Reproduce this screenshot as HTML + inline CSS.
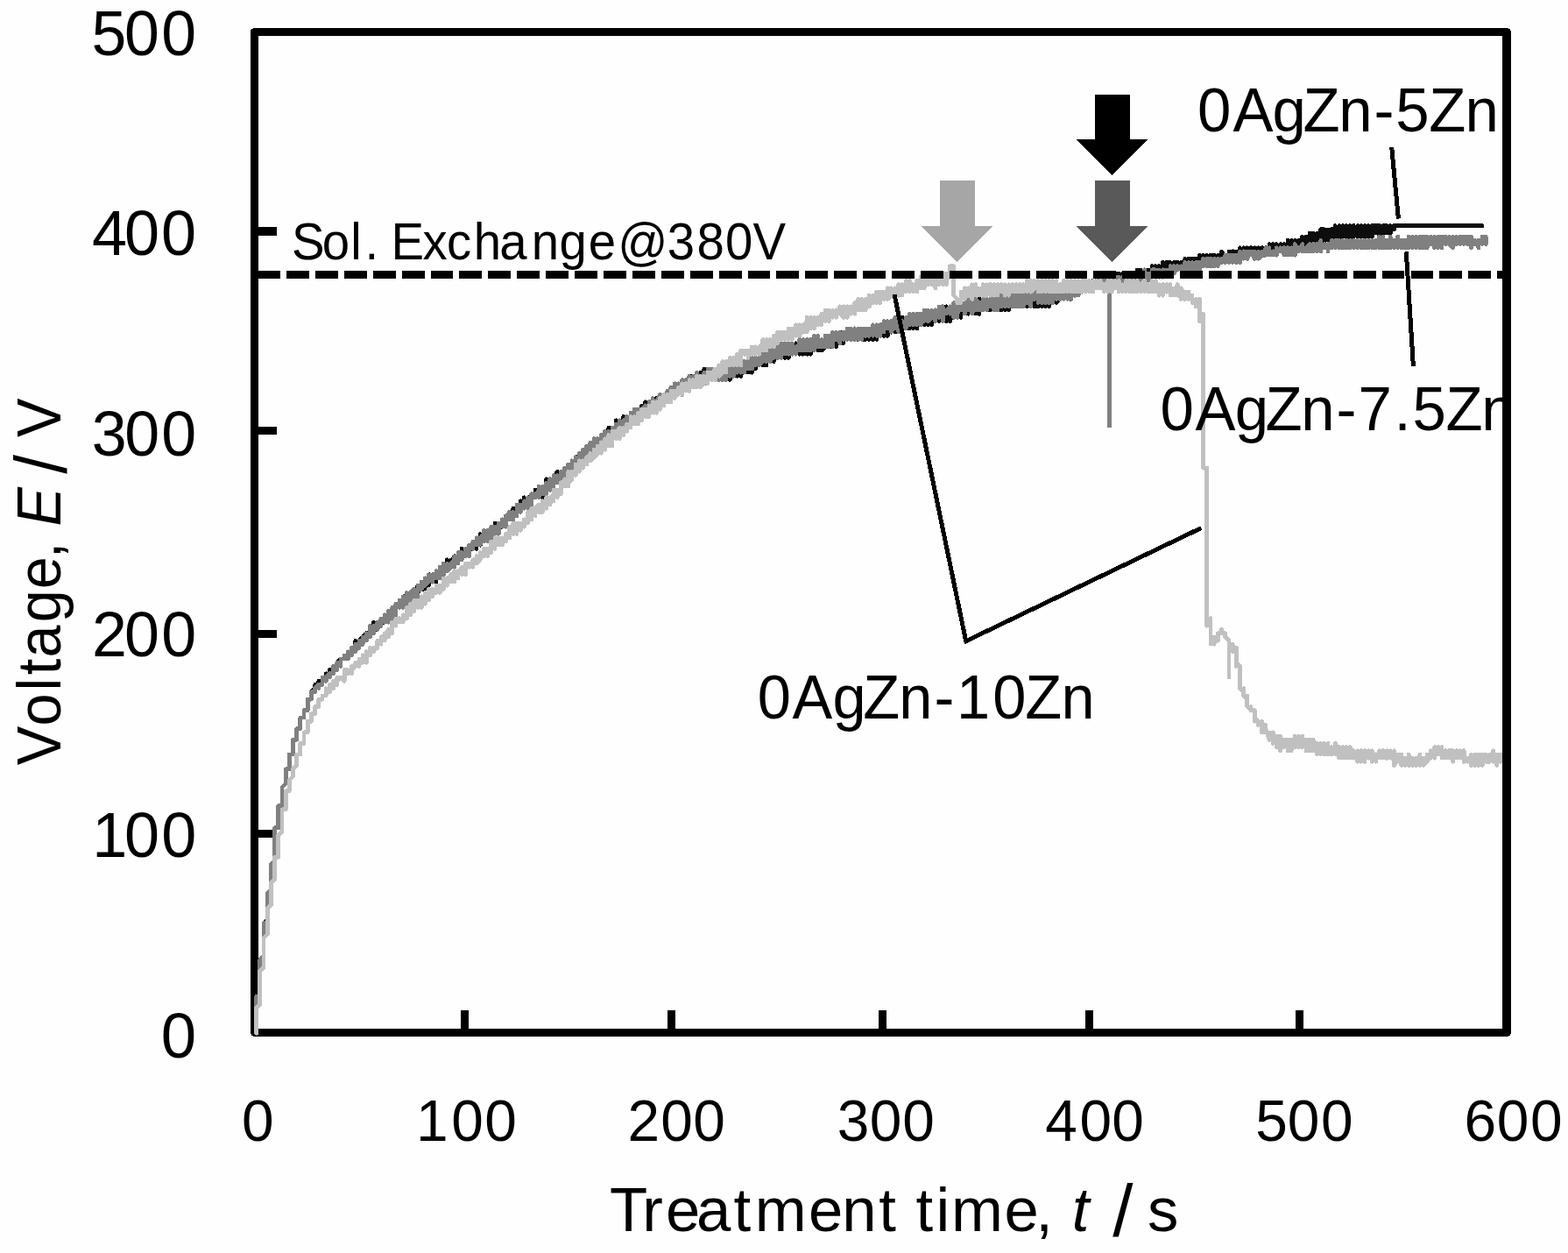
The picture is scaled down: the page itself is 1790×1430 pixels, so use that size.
<!DOCTYPE html>
<html lang="en"><head><meta charset="utf-8"><title>Voltage vs treatment time</title>
<style>
html,body{margin:0;padding:0;background:#fff;}
body{width:1790px;height:1430px;overflow:hidden;}
svg{display:block;}
text{font-family:"Liberation Sans",sans-serif;fill:#000;}
</style></head><body>
<svg width="1790" height="1430" viewBox="0 0 1790 1430">
<defs><clipPath id="plot"><rect x="286" y="32" width="1429" height="1151"/></clipPath></defs>
<rect width="1790" height="1430" fill="#fefefe"/>

<g shape-rendering="crispEdges">
<rect x="290.5" y="36.5" width="1429.75" height="1142" fill="none" stroke="#000" stroke-width="9" stroke-linejoin="round"/>
<rect x="1715" y="36" width="10" height="1143" fill="#000"/>
<rect x="526" y="1153" width="9" height="22" fill="#000"/>
<rect x="762" y="1153" width="9" height="22" fill="#000"/>
<rect x="1003" y="1153" width="9" height="22" fill="#000"/>
<rect x="1239" y="1153" width="9" height="22" fill="#000"/>
<rect x="1479" y="1153" width="9" height="22" fill="#000"/>
<rect x="294" y="259" width="22" height="10" fill="#000"/>
<rect x="294" y="487" width="22" height="9" fill="#000"/>
<rect x="294" y="719" width="22" height="9" fill="#000"/>
<rect x="294" y="947" width="22" height="9" fill="#000"/>
</g>
<g shape-rendering="crispEdges" fill="none" stroke-linejoin="round" stroke-linecap="round" transform="matrix(4.19 0 0 4.19 292.6 1179.4)" stroke-width="1.146">
<path stroke="#0d0d0d" d="M0 0v-10l1 -1v-9l1 -1v-9l1 -1v-7l1 -1v-7l1 -1v-9h1v-6h1v-5l1 -1v-4h1v-4h1v-4h1v-3h1v-3h1v-2h1v-3h1v-2l1 -1v-1v2v-2h1v-1v2v-2h1v-1v2v-2h1v-1v2v-2l1 1v-2v1h1v-2h1v-1l1 -1v2v-2h1v-1v1l1 -1v-1v2v-2l1 1v-2v1h1v-3l1 2v-2l1 -1v2v-2l1 -1v2v-2h1v-1v1l1 -1v-2l1 2v-2l1 1v-2v1h1v-2l1 1v-2h1v-1v2v-1l1 -1v-1v2v-2h1v1v-1l1 1v-3h1v-1v3v-2l1 1v-2v1h1v-2v1l1 -2v2l1 -2v1h1v-3l1 1v1v-3l1 1v-1v2l1 -2v-1v3v-3l1 2v-3v2l1 -2v1l1 -2v-1v3v-3l1 2v-2v1l1 -2v2v-1l1 -1v-1v3v-1l1 -1v1v-3v2l1 -1v-1v2v-1h1v1v-3v1h1v-2v1l1 -1v-1v3v-2l1 1v-3l1 1v-1v2v-2l1 1v-2v1h1v-2v2l1 -1v1v-3l1 1v-1v2v-1h1v-2v1h1v1v-3v1h1v-2v1l1 -1v-1v2v-2h1v-1v2v-2l1 2v-3l1 1v1v-3v2l1 1v-3l1 1v-2l1 1v-2v2l1 -2v2v-1l1 1v-3v1h1v-3v2l1 -1v-1v2l1 -1v1v-3v1l1 -2v2v-1l1 1v-2v1l1 1v-3v1h1v-2h1v-1v2v-1l1 -1v-1v2v-2h1v-1v3v-3h1v-1v2v-2h1v-1v3v-3h1v-1v3v-3l1 1v-1v2v-2h1v-1v2v-1l1 -1v-1v2v-1l1 1v-3l1 2v-3v2h1v-2v1l1 1v-4v2h1v-2v2l1 -2v-1v3v-2l1 1v-2v1l1 -1v-1v2l1 -1v-2v2h1v-2v2l1 -1v-2h1v-1v3v-2l1 -1v2h1v-3v2l1 -2v2v-2h1v-1v3v-3l1 1v-1v2v-2h1v-1v2v-2h1v-1v2l1 -1v1v-3v1l1 1v-2l1 2v-3v1h1v-1v2l1 -1v1v-3h1v2v-2h1v-1v3l1 -2v-1v3v-3l1 1v-2v4v-2l1 1v-3v1l1 2v-1l1 -1v-1v3v-2l1 1v1v-3v1l1 2v-3l1 3v-3h1v3v-2h1v1v-3v1h1v-1v3v-1l1 1v-3v3l1 -3v2v-2h1v-1v3l1 -2v-1v3v-3l1 -1v3v-3l1 1v-1v2v-2h1v2v-2l1 -1v3v-2h1v1v-3v2l1 -1v-1v3v-3h1v2l1 -3v3l1 -2v-1v3v-2l1 1v1v-3v2l1 -2v2v-1h1v-2v2l1 -1v-1v3v-3l1 2v1v-3v3l1 -3v3v-3h1v-1v4v-3l1 -1v3v-1l1 -1v-1v3v-3l1 2v1v-3v3l1 -1v-3v3h1v-3v3h1v-3v2l1 -1v-1v3v-2h1v1v-3l1 3v-3v1l1 1v-2v1h1v-1v2v-2l1 2v-2v1l1 1v-2v2l1 -1v1v-3v3h1v-2h1v-1v3v-1h1v1v-3v3l1 -2v-1v3v-3l1 1v1v-3v2l1 1v-3v2l1 1v-3l1 2v-3v1l1 1v1v-3v2h1v1v-3v1l1 1v1v-4v3l1 -1v1v-3v3h1v-2l1 1v1v-3v1l1 1v1v-3v2l1 -1v-1l1 2v-3v1h1v-1v3v-3h1v-1v4v-3l1 1v-1l1 -1v3v-2l1 1v1v-3v2l1 -1v-2v4v-2l1 1v1v-4v1l1 2v-3v1h1v-1v3v-2h1v-2v4v-1l1 -1v-1v2v-1h1v1v-3v1l1 1v1v-3l1 2v1v-3v2l1 1v-4v3l1 -3v3v-3l1 1v2h1v-3v3l1 -2v-1v3v-1l1 -1v-1v3v-3h1v3v-1l1 1v-3l1 2v1v-3v2h1v-3v1h1v2v-1h1v1v-3h1v3v-2l1 1v1v-3v3l1 -2v2v-1l1 1v-3l1 1v-1v3v-2l1 2v-4v2l1 -1v-1v4v-4l1 1v3v-2l1 -1v-1v3v-3l1 1v-1v3l1 -1v-3v3l1 -1v1v-3v1l1 -1v3v-2l1 2v-3l1 -1v3l1 -2v-1v3v-1h1v-3v1l1 -1v3v-1l1 -1v-1v3l1 -3v3v-2l1 -1v-1v3v-1l1 -2v3v-2h1v-2v4v-4h1v3h1v-2v1l1 -1v-1v3v-2l1 1v1v-3v2l1 -1v-1v3v-2l1 -1v2v-2l1 1v-1v2v-1l1 -1v2v-2l1 2v-3v1h1v-1v3v-1l1 -1v-1v2h1v-2v1l1 -1v-1v3v-1l1 -1v-1v2v-1l1 -1v2v-1h1v1v-3v2h1v-2h1v2v-1l1 -1v2v-2h1v2v-1l1 -1v1l1 -1v-1v2v-1l1 1v-2v1l1 1v-2h1v1v-1h1v-1v2v-1h1v-1v2l1 -2v2v-1h1v-1v2v-1l1 -1v1h1v-1v1l1 -1v-1v2v-2l1 2v-1l1 1v-2v2l1 -2v2v-1l1 1v-2v1l1 -1v-1v3v-2h1v-1v2h1v-2v1l1 -1v2v-1l1 1v-2l1 2v-2v1l1 -1v2v-1l1 -1v1h1v-2v2l1 -1v-1v2l1 -1v-1v2v-1h1v-1v2v-2l1 2v-2l1 2v-3v2h1v-2v1h1v-1v2v-1l1 -1v2l1 -3v3v-1l1 1v-3v3l1 -3v-1v3v-3l1 3v-3v3l1 -3v3v-3l1 2v-3h1v4v-3l1 2v-3v2l1 -2v3v-3h1v-1v4v-2l1 1v1v-4v1l1 1v1v-3l1 1v-1v4l1 -4v4l1 -2v1v-3l1 3v-3l1 3v-3v2l1 1v-3l1 2v1v-3v1l1 -1v3v-3h1v2v-2h1v3v-1h1v1v-3h1v2l1 -2v2v-1l1 -1v1v-1h1h1h1h1h1h1h1h1h1h1h1h1h1h1h1h1h1h1h1h1h1h1h1h1"/>
<path stroke="#808080" d="M0 0v-10h1v-10l1 -1v-9h1v-8l1 -1v-7l1 -1v-9h1v-6h1v-5l1 -1v-4h1v-4h1v-4h1v-3h1v-3h1v-2h1v-3h1v-2h1v-1l1 -1v1v-1h1v-2l1 1v-1l1 -1v1v-1h1v-2l1 1v-2h1v-1v2v-2h1v-1v1l1 -1v-1v2v-1h1v-2l1 1v-2v2l1 -2v-1v2v-1h1v-2v1l1 -1v-1v2v-2l1 1v-3l1 1v-1v2v-2h1v-1v2l1 -3v2v-1l1 -1v-1v2v-1l1 1v-3v1l1 1v-3v2l1 -2v-1v3v-2l1 -1v-1v2v-2l1 2v-3v1l1 -1v-1v3v-2h1v-1v2v-2l1 -1v2v-2l1 2v-3v1h1v-2v1h1v-2v2l1 -1v-2v1l1 1v-2h1v-1v2v-1l1 -1v-1v3v-2l1 1v-3v1l1 1v-2v2l1 -1v-1l1 -1v-1v3v-1h1v-3h1v2v-1l1 -1v-1v2v-2l1 2v-3l1 1v-2v1l1 -1v-1v2v-2l1 1v-1v2v-2l1 -1v-1v3v-3l1 1v-1v3v-3h1v-1v3v-1h1v-2v1h1v1v-3h1v-1v2v-1l1 1v-3v1l1 -2v2v-1l1 1v-2v1h1v-3v1h1v-1v2v-2l1 1v-2v1l1 1v-3v2l1 -1v1v-3v1h1v-1v1l1 -2v-1v3v-2h1v-1v2h1v-3l1 2v-3l1 2v-3l1 2v-2v1l1 -1v-1v2v-2h1v-1v2l1 -2v-1v3v-3l1 1v1v-3v1l1 -1v-1v2v-2l1 1v-2v2l1 -2v-1v2l1 -2v-1v3l1 -2v1v-3v3l1 -3v-1v3v-2l1 -1v2l1 -2v-1v2v-2l1 1v1v-3v2l1 -2v2l1 -1v-2v1l1 -1v-1v3v-2l1 1v-3v2h1v-2l1 1v1v-3l1 1v-2v1h1v1v-3v1l1 -1v2v-2h1v2v-2l1 -1v2h1v-3h1v-1v3l1 -1v-1v2v-2l1 -2v3v-1h1v-2l1 2v-3v1l1 -2v3v-2h1v1v-3v1l1 1v-2v1l1 2v-4v2h1v1v-3v2l1 -3v3v-3l1 2v1v-3v2h1v-3v2h1v-1v2v-2h1v-1v3v-2l1 -1v-1v3l1 -2v-1v2v-1h1v2v-1l1 -1v-1v3v-2l1 2v-3v1l1 2v-4v1h1v2v-2l1 1v1v-3v1l1 -1v-1v3v-1h1v1v-3h1v3v-2l1 -1v-1v3v-1l1 1v-3l1 1v-1v2v-2l1 2v-2v2l1 -1v-3v1l1 2v-3v2l1 -1v-1v3v-3h1v-1v3v-3l1 3v-3v2l1 -1v-2v4v-3h1v-1v3v-1h1v1v-3l1 1v-1v3l1 -2v2v-1l1 -2v-1v3v-2l1 1v1v-3v3l1 -1v1v-3l1 3v-3l1 1v-2v4v-3l1 1v1v-3v3l1 -1v-1v2v-1l1 -1v-1v3l1 -1v1v-3l1 3v-4v2l1 -1v-1v2h1v1v-3l1 2v-2l1 1v1v-3l1 2v1v-3v1l1 -1v3v-1h1v1v-3v2l1 -1v-1v3v-3l1 2v-2v1l1 1v-2l1 1v1v-3l1 3v-3v2l1 1v-3h1v-1v3v-1l1 -1v-1v2l1 -1v-1v3l1 -3v-1v3v-2l1 1v-2v4v-3l1 2v-2v2l1 -2v-1v3v-1l1 -1v1v-3l1 3v-3v1l1 2v-3v1l1 2v-3v3l1 -3v-1v3v-2l1 2v-3v3l1 -1v-2v2l1 -2v3v-3h1v-1v3v-2l1 -1v4v-2l1 -1v1l1 -2v2v-2l1 3v-4v1h1v3v-1l1 -2v-1v2v-2l1 1v-1v3v-3h1v-1v3v-3l1 1v3l1 -4v3v-3l1 1v2v-2h1v-1v3v-2h1v-1v3v-1l1 -2v2h1v1v-4l1 1v3v-2l1 -2v3v-2l1 1v1v-3v1l1 2v-3l1 2v1v-3v3l1 -3v3v-3h1v3l1 -1v1v-4v3l1 -1v1v-3v3h1v1v-3v1h1v-2l1 2v1v-3l1 3v-3v2h1v1v-3v1l1 2v-2v1h1v1v-4v1l1 1v1v-3v1l1 2v-3v3l1 -3v3v-2h1v-2v4v-3l1 1v-2v4v-4l1 3v-2l1 1v1v-3v1l1 1v-3v3l1 -1v-2v2h1v-2l1 1v-1v2v-1h1v1v-3v1l1 2v-3v3l1 -1v1v-3v3h1v-3v2l1 -1v-1v3v-2l1 -1v2v-2l1 1v-1v2h1v-2v2h1v-3v3l1 -2v-1v2v-1l1 1v-1v2v-1l1 -1v-1v3v-3l1 2v-2v2l1 -2v-1v2h1v-1v2v-1h1v-2h1v2l1 -1v-1v2v-2l1 1v-1v2v-2l1 1v-1v1h1v-2v2l1 -2v2l1 -2v1v-1l1 1v-1l1 1v-2v1l1 -1v2l1 -1v-1v2v-1l1 -1v2v-2h1v2v-1l1 -1v-1v2l1 -1v-1v2v-1h1v-1v2v-1l1 -1v2v-1l1 -1v2v-1l1 -1v1v-1l1 1v-2l1 1v-1v2v-1l1 -1v2v-1l1 1v-2l1 2v-3v2l1 -2v2v-1h1v-1v2l1 -2v1v-1l1 2v-2v1h1v-1v2l1 -1v-1v1h1v-2v2l1 -1v-1v2l1 -1v1v-1l1 1v-2v1h1v-1v1l1 -1v2v-2l1 1v-1v2v-1h1v-1v2v-1l1 1v-3v1h1v1v-1h1v-1v2l1 -1v1v-1l1 -1v2v-2l1 1v-1v2v-2l1 1v-1v2v-1h1v1v-3v2l1 -1v1h1v-1v2v-2h1v-1v2v-1l1 1v-2h1v2h1v-2v2h1v-2v1h1v-1v2v-1l1 1v-2v2l1 -2v2v-1h1v-1v2v-2l1 2v-2v2h1v-2v1l1 -1v2h1v-2v2l1 -3v3v-1l1 1v-3v1l1 1v-1v2l1 -1v1v-3v2l1 -1v2v-1h1v1v-3v1h1v2v-2h1v2l1 -2v-1v3v-2l1 2v-3v1l1 1v1v-3v1h1v-1v3v-2l1 1v1v-3v1h1v-1v3v-2l1 1v-2v1l1 -1v3v-1l1 1v-3v2h1v1v-3l1 2v-2v2l1 -2v2l1 1v-3v1l1 1v-2l1 1v-1v2v-2l1 2v-2h1v2v-2h1v3v-1h1v-1v1h1v-1v2v-2l1 1v-2v2l1 -1v-1v2v-2"/>
<path stroke="#808080" stroke-linecap="butt" stroke-width="1.193" d="M232.458 -202.721V-164.893"/>
<path stroke="#c0c0c0" d="M0 0v-7l1 -1v-9l1 -1v-8l1 -1v-7l1 -1v-6l1 -1v-6h1v-6l1 -1v-6h1v-5h1v-3l1 -1v-2l1 -1v-3h1v-3h1v-3h1v-3h1v-2h1v-2h1v-2h1v-1h1v-2l1 1v-2l1 1v-2v1h1v-2v1l1 -1l1 1v-3h1v1l1 -1v-1v2v-1l1 -1v-1v1l1 -1v-1v2v-1h1v-2l1 1v1v-3l1 1v-2l1 1v-1v1l1 -2v-1v2v-2h1v-1v2v-2h1v-1v2v-1l1 -2v2v-1h1v-3h1v-1v2v-1l1 -1v1l1 -1v-1v2v-2l1 1v-3v2l1 -1v1v-3v2l1 -2v-1v3v-1l1 -1v-1v2v-2l1 2v-3v1l1 1v-3v2h1v-3l1 2v-2v1l1 -1v-1v2v-2l1 2v-2h1v1v-3v1l1 -1v2v-1l1 -2v2v-1l1 -1v-1v3v-3l1 2v-2v1l1 -2v2v-1l1 1v-3h1v1l1 -1v-1v2v-2h1v-1v2l1 -1v-2l1 1v-2h1v2v-1h1v-3h1v-1v3v-3l1 1v-1v2v-1h1v-1v2v-1h1v-2v1l1 -1v1v-3v1h1v1v-3v2l1 1v-3v1h1v-1v2v-1l1 -1v-1v2v-2l1 1v-3v1l1 -1v-1v3v-2h1v-1v2v-2l1 -1v2h1v-3l1 1v1v-3v2h1v-2v2l1 -3v-1v3v-2l1 1v-2l1 1v-3h1v-1v2h1v-4v3l1 -1v-2v1l1 -1v1v-3h1v-1v3v-2l1 -1v2v-1h1v-2v1h1v-2v2l1 -1v-2v2l1 -1v-2v1h1v1v-3v1h1v1v-3v1l1 1v-3v3h1v-4v1h1v-1v2v-1l1 -2v3v-1l1 -1v-1v2v-2h1v-1v2v-2l1 1v-3v1h1v-1v2l1 -2v-1v3v-3h1v-1v3v-3h1v2h1v-3v1l1 -1v-1v3v-3l1 2v1v-3l1 1v1v-3v2l1 -2v-1v3v-2h1v-1v2h1v-3v1h1v-1v2v-2l1 1v-2v1l1 -1v-1v3v-2l1 -1v2v-1l1 1v-3v2l1 -2v2v-1h1v1v-3v2l1 -2v3l1 -1v-2l1 2v-3v1l1 1v-2v1l1 -2v3v-3h1v-1v3l1 -1v-3l1 1v-1v3v-3h1v-1v2v-1l1 1v-2h1v-1v3v-2l1 1v1v-4l1 1v-1v1l1 -1v2v-1h1v-2v1h1v-1v2v-1h1v-1v2v-2l1 -1v-1v3v-2l1 2v-3l1 1v-1v2l1 -2v-1v3v-2h1v1v-3h1v2l1 -2v2v-2l1 2v-3l1 1v-1v3v-1l1 -1v1v-3v1l1 1v1v-3v2h1v-2v1l1 -2v-1v4v-2l1 -1v-1v3l1 -2v-1v3v-1l1 -1v-1v2v-2l1 2v-3v1h1v1v-3v1l1 2v-3v3l1 -3v2v-1l1 -1v2v-1l1 -1v-1v2l1 1v-3l1 1v-1v3l1 -3v2v-1h1v1v-3v1h1v1v-3v2l1 1v-3v3l1 -2v-1v3v-3l1 2v-3l1 2v-2v2l1 -2v-1v3v-2l1 2v-3l1 2v-2h1v-1v3l1 -1v-2v1h1v-1v2v-2l1 2v-3v1h1v-1v3v-1l1 -2v-1v3v-3l1 1v-1v3v-2h1v2v-1h1v1v-3h1v-1v3v-1l1 -1v-1v3l1 -3v2l1 -2v2v-1h1v-1v3v-2l1 1v-3v2l1 -2v3v-2l1 -1v3v-2h1v-3h1v8l1 1v1h1v-3v2l1 -2v-1v3v-1h1v-2v2h1v1v-4v3l1 -1v1v-3v3l1 -1v-1v2v-2l1 1v1v-3v3l1 -1v1v-3v1l1 -1v3v-2l1 2v-3v2l1 -1v-1v3v-3l1 2v-2l1 3v-3l1 2v1v-3v2h1v-2v1l1 -1v2v-1l1 1v-2v2l1 -2v2l1 -2v-1v3v-2l1 2v-3v3l1 -1v-2v1l1 1v1v-3v2l1 1v-3v2h1v1v-3v3l1 -3v3v-3l1 3v-3v2h1v1v-3v2l1 1v-2h1v-1v3v-2h1v-1v3l1 -2v-1v3v-1l1 -1v-1v3l1 -3v3v-2h1v-1v3v-3h1v3v-3l1 1v-1v3l1 -2v-1v3v-2l1 -1v2l1 -1v-1v2l1 -1v2v-2l1 2v-3v1l1 1v1v-3v3l1 -2v-1v2v-1h1v-1v3l1 -1v-1v2v-2l1 2v-3v2h1v1v-3l1 2v1v-3v3h1v-3l1 3v-2l1 -1v3v-2h1v2v-1l1 1v-3v2l1 1v-3v2l1 1v1v-3v2h1v1v-3l1 2v-2v2h1v1v-3v1l1 1v-1v2v-1l1 -2v3v-2l1 3v-3l1 3v-2v1h1v-1v2v-1h1v2h1v-1v2l1 -2v6l1 -2v42h1v43v-1l1 -1v7v-1h1v-1v2v-2l1 1v-2h1v-1v1h1v1l1 1v10v-9h1v2l1 -1v5v-1l1 1v6l1 1v-1v2l1 1v-1v3l1 1v-1v1h1v3v-1l1 1v1v-1l1 1v-1v3h1v-2v1l1 3v-2v1l1 1v1v-3v2l1 1v1v-3h1v4v-3l1 1v-1v2v-2l1 2v1v-3v3l1 -1v1v-3h1v-1v3v-1h1v1v-3v1l1 1v1v-3v1l1 1v-1v3v-2l1 1v1v-3v1h1v-1v3l1 -1v-1v3l1 -2v-1v3l1 -3v3v-3l1 2v1v-3v3l1 -2v2l1 -2v-1v3v-1l1 -1v3v-1l1 -1v-1v3v-3l1 2v1v-3v3l1 -2v-1v3l1 -2v2v-2l1 2v1v-3v3l1 -3v3v-1l1 -2v3v-3l1 2v-2l1 2v1v-3v2l1 -1v2v-2h1v-1v2v-1l1 -1v2v-1l1 1v-2v1h1v-1v2v-2l1 3v1v-4v4l1 -2v-1v2v-2l1 1v-1v3v-1h1v-1v2l1 -2v-1v3l1 -1v-1v2l1 -1v-1v2v-2h1v-1v3l1 -2v2l1 -1v-2v1h1v-2v1l1 -1v-1v3v-3l1 2v-2v2l1 -2v3l1 -2v2l1 -2v2v-2h1v3v-2l1 -1v2l1 -1v-1v2l1 -2v3v-1h1v1v-1l1 1v1v-3l1 1v-1v3v-2l1 2v-3v2h1v1v-3v3l1 -3v2h1v-2v2l1 -2v-1v3v-2l1 2v1v-3v2l1 -1v-1v2"/>
</g>
<g shape-rendering="crispEdges">
<line x1="294.1" y1="313.5" x2="1716" y2="313.5" stroke="#000" stroke-width="9" stroke-dasharray="25.9 7.01"/>
</g>
<g shape-rendering="crispEdges">
<path fill="#a6a6a6" d="M1072.6 206.0H1112.6V258.0H1133.3L1092.6 299.0L1051.9 258.0H1072.6Z"/>
<path fill="#000" d="M1249.5 108.0H1289.5V159.4H1310.0L1269.5 200.0L1229.0 159.4H1249.5Z"/>
<path fill="#595959" d="M1249.5 206.0H1289.5V258.3H1310.0L1269.5 299.2L1229.0 258.3H1249.5Z"/>
</g>
<g stroke="#000" stroke-width="5" fill="none" stroke-linejoin="miter" shape-rendering="crispEdges">
<path d="M1021 336L1102.7 731.7L1371.2 602.6"/>
<path d="M1588.7 167.8L1596.4 249.6"/>
<path d="M1605.3 287.4L1613.4 418"/>
</g>
<text transform="translate(104.58 63.20) scale(0.9895 1)" font-size="72.30" x="0 37.9 80.5" y="0">500</text>
<text transform="translate(104.95 291.30) scale(0.9964 1)" font-size="72.30" x="0 37.1 79.4" y="0">400</text>
<text transform="translate(104.86 520.30) scale(0.9924 1)" font-size="72.30" x="0 37.6 79.9" y="0">300</text>
<text transform="translate(105.10 749.20) scale(0.9924 1)" font-size="72.30" x="0 37.3 79.7" y="0">200</text>
<text transform="translate(105.16 978.30) scale(0.9953 1)" font-size="72.30" x="0 37.1 79.4" y="0">100</text>
<text transform="translate(183.86 1207.00) scale(1.0040 1)" font-size="72.30" x="0" y="0">0</text>
<text transform="translate(276.10 1301.60) scale(0.9750 1)" font-size="67.50" x="0" y="0">0</text>
<text transform="translate(474.95 1301.60) scale(0.9750 1)" font-size="67.50" x="0 41.3 80.2" y="0">100</text>
<text transform="translate(716.40 1301.60) scale(0.9750 1)" font-size="67.50" x="0 38.8 76.9" y="0">200</text>
<text transform="translate(955.69 1301.60) scale(0.9750 1)" font-size="67.50" x="0 38 76.6" y="0">300</text>
<text transform="translate(1193.21 1301.60) scale(0.9750 1)" font-size="67.50" x="0 40.2 78.1" y="0">400</text>
<text transform="translate(1433.36 1301.60) scale(0.9750 1)" font-size="67.50" x="0 37.4 76.5" y="0">500</text>
<text transform="translate(1671.42 1301.60) scale(0.9750 1)" font-size="67.50" x="0 38.4 77.4" y="0">600</text>
<text transform="translate(695.91 1404.50) scale(1.0108 1)" font-size="70.00" x="0 36.9 63.5 98.1 140 164.1 224.7 262.5 304.1 325 345.8 368.6 385.9 445.8 481.1 501.7 522.3 545.2 568.1 587.8 607.6" y="0 0 0 0 0 0 0 0 0 0 0 0 0 0 0 0 0 0 6.8 0 0">Treatment time, <tspan font-style="italic">t</tspan> <tspan font-size="82.72">/</tspan> s</text>
<text transform="translate(69.20 873.26) rotate(-90) scale(0.9380 1)" font-size="71.00" x="0 47.8 90.5 109.8 130.8 173.9 214.2 251.6 271.2 290.7 335.8 354.5 376.8 399.1" y="0 0 0 0 0 0 0 0 0 0 0 6.9 0 0">Voltage, <tspan font-style="italic">E</tspan> <tspan font-size="83.70">/</tspan> V</text>
<text transform="translate(333.12 295.80) scale(0.9550 1)" font-size="59.00" x="0 36.4 70.2 87.2 102.9 118.7 156.3 185.2 217.4 248.4 286.6 319.8 354.5 389.8 448.8 484.3 518.2 551.3" y="0">Sol. Exchange@380V</text>
<text transform="translate(1366.92 149.90) scale(0.9714 1)" font-size="71.00" x="0 41.8 88.2 124.2 166.1 207.6 233 272.1 314.5" y="0">0AgZn-5Zn</text>
<g clip-path="url(#plot)"><text transform="translate(1324.57 490.80) scale(0.9714 1)" font-size="71.00" x="0 41 87.8 123.4 165.5 206.9 232.7 274.8 296.3 335.6 377.6" y="0">0AgZn-7.5Zn</text></g>
<text transform="translate(864.67 820.20) scale(0.9665 1)" font-size="71.00" x="0 41.3 88.8 124.9 167.3 208.8 235.2 277.8 316.2 358.9" y="0">0AgZn-10Zn</text>
</svg></body></html>
